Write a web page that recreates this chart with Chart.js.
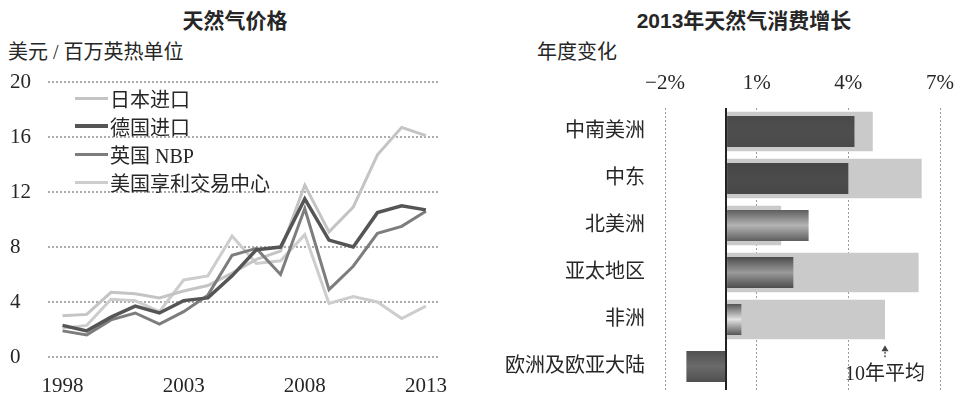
<!DOCTYPE html>
<html lang="zh">
  <head>
    <meta charset="UTF-8" />
    <meta name="viewport" content="width=device-width, initial-scale=1.0" />
    <title>天然气价格与消费增长</title>
    <style>
      body {
        margin: 0;
        width: 966px;
        height: 396px;
        position: relative;
        overflow: hidden;
        background: #fff;
        color: #262626;
        font-family: "Liberation Serif", "Noto Sans CJK SC", serif;
      }
      .title {
        position: absolute;
        top: 4px;
        transform: translateX(-50%);
        white-space: nowrap;
        font-family: "Liberation Sans", "Noto Sans CJK SC", sans-serif;
        font-weight: bold;
        font-size: 21px;
      }
      .unit {
        position: absolute;
        top: 36px;
        white-space: nowrap;
        font-size: 20px;
      }
      .panel {
        position: absolute;
        top: 0;
        height: 396px;
      }
      .legend {
        position: absolute;
        left: 75px;
        top: 84px;
      }
      .legend__item {
        display: flex;
        align-items: center;
        height: 28px;
        font-size: 20px;
        white-space: nowrap;
      }
      .legend__line {
        width: 33px;
        margin-right: 2px;
      }
    </style>
  </head>
  <body>
    <div class="title" style="left: 235px">天然气价格</div>
    <div class="unit" style="left: 8px">美元 / 百万英热单位</div>
    <div class="panel" style="left: 0; width: 480px">
      <canvas id="priceChart"></canvas>
    </div>
    <div class="legend" id="priceLegend"></div>

    <div class="title" style="left: 744px">2013年天然气消费增长</div>
    <div class="unit" style="left: 537px">年度变化</div>
    <div class="panel" style="left: 480px; width: 486px">
      <canvas id="growthChart"></canvas>
    </div>

    <script src="https://cdn.jsdelivr.net/npm/chart.js"></script>
    <script>
      // gas prices, USD per million Btu
      const years = [1998, 1999, 2000, 2001, 2002, 2003, 2004, 2005, 2006, 2007, 2008, 2009, 2010, 2011, 2012, 2013];
      const japanImport = [3.0, 3.1, 4.7, 4.6, 4.3, 4.8, 5.2, 6.1, 7.1, 7.7, 12.5, 9.1, 10.9, 14.7, 16.7, 16.1];
      const germanImport = [2.3, 1.9, 2.9, 3.7, 3.2, 4.1, 4.3, 5.9, 7.8, 8.0, 11.5, 8.5, 8.0, 10.5, 11.0, 10.7];
      const ukNbp = [1.9, 1.6, 2.7, 3.2, 2.4, 3.3, 4.5, 7.4, 7.9, 6.0, 10.8, 4.9, 6.6, 9.0, 9.5, 10.6];
      const henryHub = [2.1, 2.3, 4.2, 4.1, 3.3, 5.6, 5.9, 8.8, 6.8, 7.0, 8.9, 3.9, 4.4, 4.0, 2.8, 3.7];
      const yearTicks = [1998, 2003, 2008, 2013];
      const priceTicks = [0, 4, 8, 12, 16, 20];

      // consumption growth by region, percent
      const regions = ["中南美洲", "中东", "北美洲", "亚太地区", "非洲", "欧洲及欧亚大陆"];
      const growth2013 = [4.2, 4.0, 2.7, 2.2, 0.5, -1.3];
      const tenYearAvg = [4.8, 6.4, 1.8, 6.3, 5.2, 0];
      const growthTicks = [-2, 0, 1, 4, 7];

      const textColor = "#262626";
      const serif = '"Liberation Serif", "Noto Sans CJK SC", serif';
      Chart.defaults.font.family = serif;
      Chart.defaults.color = textColor;
      Chart.defaults.animation = false;

      const dotted = "#9a9a9a";

      const series = [
        { label: "日本进口", data: japanImport, color: "#c4c4c4", width: 3, order: 2 },
        { label: "德国进口", data: germanImport, color: "#555555", width: 3.5, order: 0 },
        { label: "英国 NBP", data: ukNbp, color: "#7d7d7d", width: 3, order: 1 },
        { label: "美国享利交易中心", data: henryHub, color: "#cdcdcd", width: 3, order: 3 },
      ];

      new Chart(document.getElementById("priceChart"), {
        type: "line",
        data: {
          datasets: series.map((s) => ({
            label: s.label,
            data: s.data.map((v, i) => ({ x: years[i], y: v })),
            borderColor: s.color,
            borderWidth: s.width,
            order: s.order,
            pointRadius: 0,
            tension: 0,
          })),
        },
        options: {
          responsive: true,
          maintainAspectRatio: false,
          layout: { padding: { left: 10, top: 82, right: 42, bottom: 0 } },
          scales: {
            x: {
              type: "linear",
              min: 1997.4,
              max: 2013.5,
              afterBuildTicks: (scale) => {
                scale.ticks = yearTicks.map((v) => ({ value: v }));
              },
              afterFit: (scale) => {
                scale.height = 39;
              },
              ticks: {
                font: { size: 21 },
                padding: 9,
                maxRotation: 0,
                callback: (v) => String(v),
              },
              grid: { display: false },
              border: { display: false },
            },
            y: {
              type: "linear",
              min: 0,
              max: 20,
              afterBuildTicks: (scale) => {
                scale.ticks = priceTicks.map((v) => ({ value: v }));
              },
              afterFit: (scale) => {
                scale.width = 38;
              },
              ticks: {
                font: { size: 21 },
                crossAlign: "far",
              },
              grid: { color: "#ababab", lineWidth: 2, drawTicks: false },
              border: { display: false, dash: [2, 2] },
            },
          },
          plugins: {
            legend: { display: false },
            tooltip: { enabled: false },
          },
        },
      });

      // legend rows built from the series list
      const legendBox = document.getElementById("priceLegend");
      series.forEach((s) => {
        const row = document.createElement("div");
        row.className = "legend__item";
        const line = document.createElement("span");
        line.className = "legend__line";
        line.style.height = s.width + "px";
        line.style.background = s.color;
        const text = document.createElement("span");
        text.textContent = s.label;
        row.appendChild(line);
        row.appendChild(text);
        legendBox.appendChild(row);
      });

      // shading for the 2013 bars: edge and middle tones per region
      const barEdge = ["#4a4a4a", "#474747", "#5e5e5e", "#4c4c4c", "#555555", "#505050"];
      const barMid = ["#4e4e4e", "#4b4b4b", "#b4b4b4", "#9a9a9a", "#e2e2e2", "#6a6a6a"];
      const barPct2013 = 0.66;
      const barPctAvg = 0.84;

      function barShade(ctx) {
        const chart = ctx.chart;
        const y = chart.scales.y;
        if (!y || !chart.chartArea) return barEdge[ctx.dataIndex];
        const c = y.getPixelForValue(ctx.dataIndex);
        const h = (y.height / regions.length) * barPct2013;
        const g = chart.ctx.createLinearGradient(0, c - h / 2, 0, c + h / 2);
        g.addColorStop(0, barEdge[ctx.dataIndex]);
        g.addColorStop(0.5, barMid[ctx.dataIndex]);
        g.addColorStop(1, barEdge[ctx.dataIndex]);
        return g;
      }

      // arrow and caption under the Africa ten-year average
      const avgNote = {
        id: "avgNote",
        afterDatasetsDraw(chart) {
          const { ctx, scales } = chart;
          const i = regions.indexOf("非洲");
          const x = scales.x.getPixelForValue(tenYearAvg[i]);
          const band = scales.y.height / regions.length;
          const tip = scales.y.getPixelForValue(i) + (band * barPctAvg) / 2 + 6;
          ctx.save();
          ctx.strokeStyle = "#555";
          ctx.fillStyle = "#444";
          ctx.lineWidth = 1.5;
          ctx.setLineDash([2, 1.5]);
          ctx.beginPath();
          ctx.moveTo(x, tip + 3);
          ctx.lineTo(x, tip + 12);
          ctx.stroke();
          ctx.setLineDash([]);
          ctx.beginPath();
          ctx.moveTo(x, tip);
          ctx.lineTo(x - 3.5, tip + 6);
          ctx.lineTo(x + 3.5, tip + 6);
          ctx.closePath();
          ctx.fill();
          ctx.fillStyle = textColor;
          ctx.font = "20px " + serif;
          ctx.textAlign = "center";
          ctx.textBaseline = "middle";
          ctx.fillText("10年平均", x, tip + 30);
          ctx.restore();
        },
      };

      new Chart(document.getElementById("growthChart"), {
        type: "bar",
        data: {
          labels: regions,
          datasets: [
            {
              label: "2013",
              data: growth2013,
              backgroundColor: barShade,
              grouped: false,
              categoryPercentage: 1,
              barPercentage: barPct2013,
            },
            {
              label: "10年平均",
              data: tenYearAvg,
              backgroundColor: "#cacaca",
              grouped: false,
              categoryPercentage: 1,
              barPercentage: barPctAvg,
            },
          ],
        },
        plugins: [avgNote],
        options: {
          indexAxis: "y",
          responsive: true,
          maintainAspectRatio: false,
          layout: { padding: { left: 0, top: 0, right: 20, bottom: 6 } },
          scales: {
            x: {
              position: "top",
              min: -2,
              max: 7,
              afterBuildTicks: (scale) => {
                scale.ticks = growthTicks.map((v) => ({ value: v }));
              },
              afterFit: (scale) => {
                scale.height = 108;
              },
              ticks: {
                font: { size: 21 },
                padding: 12,
                maxRotation: 0,
                callback: (v) => (v === 0 ? "" : (v < 0 ? "−" : "") + Math.abs(v) + "%"),
              },
              grid: {
                drawTicks: false,
                color: (ctx) => (ctx.tick && ctx.tick.value === 0 ? "#222" : dotted),
                lineWidth: (ctx) => (ctx.tick && ctx.tick.value === 0 ? 2 : 1),
              },
              border: {
                display: false,
                dash: (ctx) => (ctx.tick && ctx.tick.value === 0 ? [] : [2, 2]),
              },
            },
            y: {
              afterFit: (scale) => {
                scale.width = 185;
                scale.paddingTop = 0;
                scale.paddingBottom = 0;
              },
              ticks: {
                font: { size: 20 },
                padding: 12,
              },
              grid: { display: false },
              border: { display: false },
            },
          },
          plugins: {
            legend: { display: false },
            tooltip: { enabled: false },
          },
        },
      });
    </script>
  </body>
</html>
